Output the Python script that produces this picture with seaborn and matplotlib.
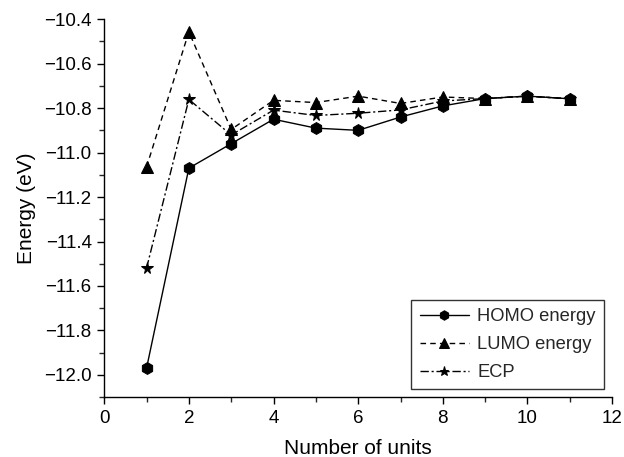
import numpy as np
import pandas as pd
import matplotlib
matplotlib.use("Agg")
import matplotlib.pyplot as plt
from matplotlib.ticker import MultipleLocator
import seaborn as sns

units = [1, 2, 3, 4, 5, 6, 7, 8, 9, 10, 11]
homo = [-11.97, -11.07, -10.96, -10.85, -10.89, -10.90, -10.84, -10.79, -10.757, -10.746, -10.758]
lumo = [-11.065, -10.457, -10.896, -10.765, -10.775, -10.746, -10.779, -10.750, -10.757, -10.746, -10.758]
ecp = [-11.52, -10.761, -10.921, -10.809, -10.833, -10.823, -10.808, -10.768, -10.757, -10.746, -10.758]
series_names = ["HOMO energy", "LUMO energy", "ECP"]

df = pd.DataFrame({
    "units": units * 3,
    "energy": homo + lumo + ecp,
    "series": [series_names[0]] * len(units) + [series_names[1]] * len(units) + [series_names[2]] * len(units),
})

sns.set_theme(style="ticks")
plt.rcParams["font.family"] = ["Liberation Sans", "DejaVu Sans"]

fig = plt.figure(figsize=(6.24, 4.57), dpi=100)
ax = fig.add_axes([0.167, 0.131, 0.814, 0.827])

sns.lineplot(
    data=df, x="units", y="energy", hue="series", style="series",
    palette={n: "black" for n in series_names},
    markers={"HOMO energy": "h", "LUMO energy": "^", "ECP": "*"},
    dashes={"HOMO energy": "", "LUMO energy": (4, 3), "ECP": (6, 2, 1.5, 2)},
    markersize=8.5, linewidth=1.0, markeredgecolor="black", ax=ax,
)

ax.set_xlim(0, 12)
ax.set_ylim(-12.1, -10.4)
ax.xaxis.set_major_locator(MultipleLocator(2))
ax.xaxis.set_minor_locator(MultipleLocator(1))
ax.yaxis.set_major_locator(MultipleLocator(0.2))
ax.yaxis.set_minor_locator(MultipleLocator(0.1))
ax.tick_params(which="major", direction="out", length=5, width=1, labelsize=13.5, colors="black", pad=4)
ax.tick_params(which="minor", direction="out", length=3.5, width=1)
for side in ["top", "right"]:
    ax.spines[side].set_visible(False)
for side in ["left", "bottom"]:
    ax.spines[side].set_linewidth(1)
    ax.spines[side].set_color("black")

ax.set_xlabel("Number of units", fontsize=15, color="black", labelpad=9)
ax.set_ylabel("Energy (eV)", fontsize=15, color="black", labelpad=6)

handles, labels = ax.get_legend_handles_labels()
pairs = [(h, l) for h, l in zip(handles, labels) if l in series_names]
leg = ax.legend([p[0] for p in pairs], [p[1] for p in pairs],
                loc="lower right", bbox_to_anchor=(0.984, 0.021), borderaxespad=0,
                fontsize=13.2, handlelength=2.7, handletextpad=0.45, markerscale=0.8,
                frameon=True, fancybox=False, edgecolor="black",
                borderpad=0.45, labelspacing=0.6)
leg.get_frame().set_linewidth(1)

fig.savefig("out.png", dpi=100)
